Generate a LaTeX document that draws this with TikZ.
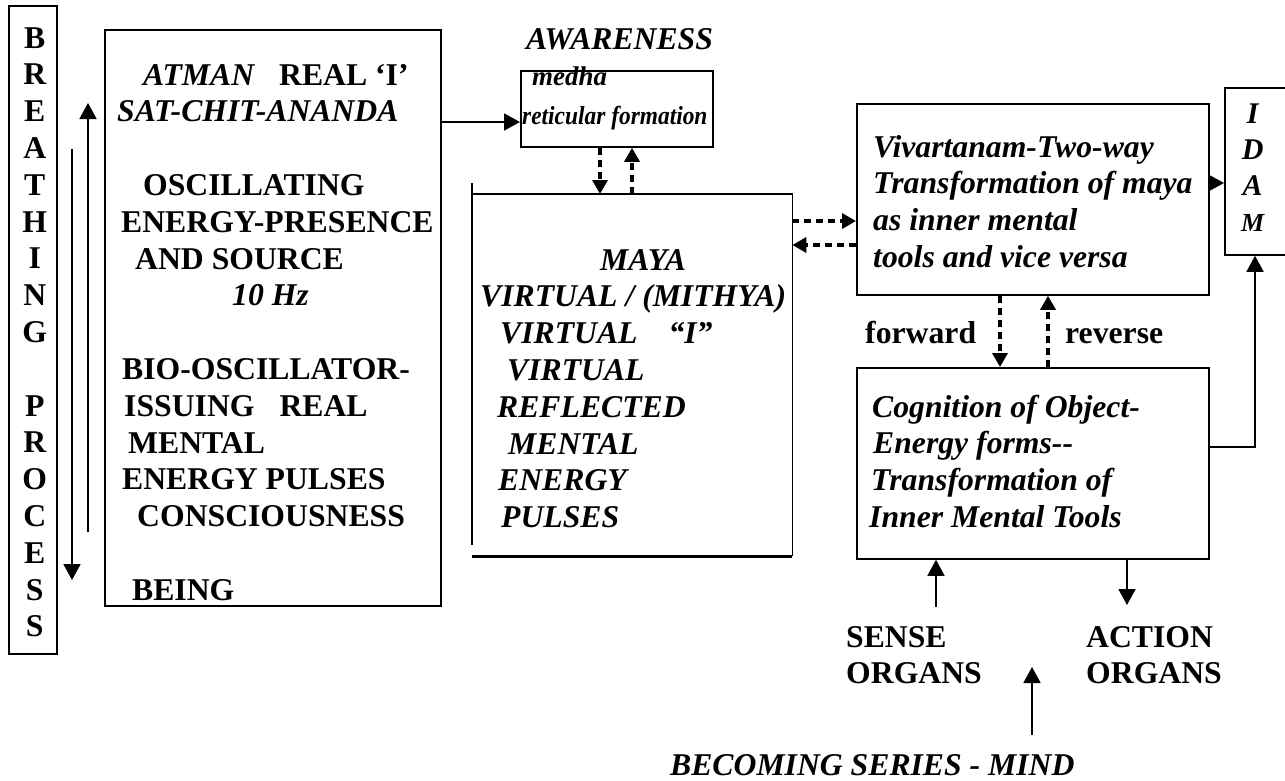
\documentclass[tikz,border=0pt]{standalone}
\usepackage{fontspec}
\setmainfont{Liberation Serif}
\newfontfamily\condfont[FakeStretch=0.9]{Liberation Serif}
\usetikzlibrary{arrows.meta,calc}
\newcommand\bigf{\fontsize{31.7}{36.8}\selectfont\bfseries}
\newcommand\myline[2][0]{\hbox{\hskip#1pt\relax #2}}
\newcommand\cln[1]{\hbox to 0pt{\hss#1\hss}}
\tikzset{
  box/.style={draw, line width=1.8pt, inner sep=0pt, anchor=north west},
  txt/.style={inner sep=0pt, anchor=base west, font=\bigf},
  arr/.style={line width=1.8pt, -{Triangle[length=16pt,width=17pt]}},
  darr/.style={line width=3.5pt, dash pattern=on 7pt off 5pt, -{Triangle[length=14pt,width=15pt]}},
}
\begin{document}
\begin{tikzpicture}[x=1pt,y=-1pt]
\fill[white] (0,0) rectangle (1285,780);
\useasboundingbox (0,0) rectangle (1285,780);

% boxes
\node[box, minimum width=48pt, minimum height=648pt] (breath) at (8,5) {};
\node[box, minimum width=336pt, minimum height=576pt] (atman) at (104,29) {};
\node[box, minimum width=192pt, minimum height=76pt] (medha) at (520,70) {};
\node[inner sep=0pt, anchor=north west, minimum width=320pt, minimum height=362pt] (maya) at (472,194) {};
\node[box, minimum width=352pt, minimum height=191pt] (viv) at (856,103) {};
\node[box, minimum width=68pt, minimum height=167pt] (idam) at (1224,87) {};
\node[box, minimum width=352pt, minimum height=191pt] (cog) at (856,367) {};

% maya box outline (open left edge)
\draw[line width=1.8pt] ($(maya.north west)+(0,-11)$) -- ($(maya.south west)+(0,-11)$);
\draw[line width=1.8pt] (maya.north west) -- (maya.north east) -- (maya.south east);
\draw[line width=2.6pt] (maya.south east) -- (maya.south west);

% texts
\node[txt] (breathtxt) at (34,48) {\vtop{\cln{B}\cln{R}\cln{E}\cln{A}\cln{T}\cln{H}\cln{I}\cln{N}\cln{G}\cln{}\cln{P}\cln{R}\cln{O}\cln{C}\cln{E}\cln{S}\cln{S}}};

\node[txt] (atmantxt) at (117,85) {\vtop{%
\myline[26]{{\itshape ATMAN}\hskip25pt REAL ‘I’}%
\myline{\itshape SAT-CHIT-ANANDA}%
\myline{}%
\myline[26]{OSCILLATING}%
\myline[4]{ENERGY-PRESENCE}%
\myline[18]{AND SOURCE}%
\myline[115]{\itshape 10 Hz}%
\myline{}%
\myline[5]{BIO-OSCILLATOR-}%
\myline[7]{ISSUING\hskip25pt REAL}%
\myline[11]{MENTAL}%
\myline[5]{ENERGY PULSES}%
\myline[20]{CONSCIOUSNESS}%
\myline{}%
\myline[15]{BEING}}};

\node[txt, font=\bigf\itshape] (aware) at (526,49) {AWARENESS};
\node[txt, font=\fontsize{27}{30}\selectfont\bfseries\itshape] (medhatxt) at (532,85) {medha};
\node[txt, font=\condfont\fontsize{26}{30}\selectfont\bfseries\itshape] (retic) at (522,124) {reticular formation};

\node[txt, font=\bigf\itshape] (mayatxt) at (480,270) {\vtop{%
\myline[120]{MAYA}%
\myline{VIRTUAL / (MITHYA)}%
\myline[20]{VIRTUAL\hskip31pt “I”}%
\myline[27]{VIRTUAL}%
\myline[17]{REFLECTED}%
\myline[28]{MENTAL}%
\myline[18]{ENERGY}%
\myline[21]{PULSES}}};

\node[txt, font=\bigf\itshape] (vivtxt) at (873,157) {\vtop{%
\myline{Vivartanam-Two-way}%
\myline{Transformation of maya}%
\myline{as inner mental}%
\myline{tools and vice versa}}};

\node[txt, font=\fontsize{30}{36}\selectfont\bfseries\itshape] (idamtxt) at (1252,123) {\vtop{\cln{I}\cln{D}\cln{A}\cln{\fontsize{26}{36}\selectfont M}}};

\node[txt, font=\bigf\itshape] (cogtxt) at (869,417) {\vtop{%
\myline[3]{Cognition of Object-}%
\myline[4]{Energy forms-{}-}%
\myline[2]{Transformation of}%
\myline{Inner Mental Tools}}};

\node[txt] (fwd) at (865,343) {forward};
\node[txt] (rev) at (1065,343) {reverse};
\node[txt] (sense) at (846,647) {\vtop{\myline{SENSE}\myline{ORGANS}}};
\node[txt] (action) at (1086,647) {\vtop{\myline{ACTION}\myline{ORGANS}}};
\node[txt, font=\bigf\itshape] (mind) at (670,775) {BECOMING SERIES - MIND};

% free ends
\coordinate (upS) at (88,532);
\coordinate (upE) at (88,103);
\coordinate (dnS) at (72,149);
\coordinate (dnE) at (72,580);
\coordinate (senseS) at (936,607);
\coordinate (actionE) at (1127,605);
\coordinate (mindS) at (1032,735);
\coordinate (mindE) at (1032,667);

% connectors
\draw[arr] (upS) -- (upE);
\draw[arr] (dnS) -- (dnE);
\draw[arr] (atman.east |- 0,122) -- (medha.west |- 0,122);
\draw[darr] (medha.south -| 600,0) -- (maya.north -| 600,0);
\draw[darr] (maya.north -| 632,0) -- (medha.south -| 632,0);
\draw[darr] (maya.east |- 0,221) -- (viv.west |- 0,221);
\draw[darr] (viv.west |- 0,245) -- (maya.east |- 0,245);
\draw[arr] (viv.east |- 0,183) -- (idam.west |- 0,183);
\draw[darr] (viv.south -| 1000,0) -- (cog.north -| 1000,0);
\draw[darr] (cog.north -| 1048,0) -- (viv.south -| 1048,0);
\draw[arr] (cog.east |- 0,447) -| ($(idam.south west)+(31,0)$);
\draw[arr] (senseS) -- (cog.south -| 936,0);
\draw[arr] (cog.south -| 1127,0) -- (actionE);
\draw[arr] (mindS) -- (mindE);
\end{tikzpicture}
\end{document}
